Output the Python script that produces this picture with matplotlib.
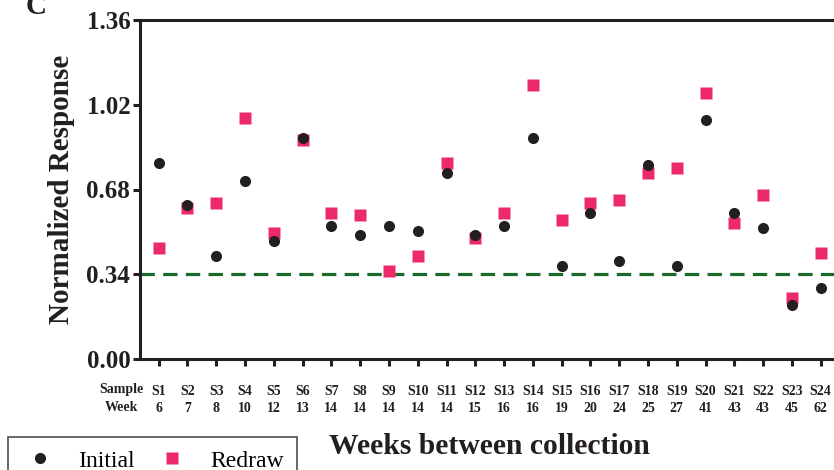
import matplotlib
matplotlib.use("Agg")
import matplotlib.pyplot as plt
from matplotlib.lines import Line2D
import numpy as np

samples = ["S1","S2","S3","S4","S5","S6","S7","S8","S9","S10","S11","S12",
           "S13","S14","S15","S16","S17","S18","S19","S20","S21","S22","S23","S24"]
weeks = [6,7,8,10,12,13,14,14,14,14,14,15,16,16,19,20,24,25,27,41,43,43,45,62]
initial = [0.787,0.617,0.415,0.716,0.475,0.887,0.535,0.496,0.535,0.515,0.747,0.496,
           0.535,0.887,0.375,0.586,0.395,0.777,0.375,0.958,0.586,0.525,0.215,0.284]
redraw = [0.446,0.607,0.627,0.967,0.506,0.879,0.586,0.576,0.355,0.415,0.788,0.486,
          0.586,1.098,0.557,0.627,0.636,0.748,0.768,1.069,0.546,0.657,0.244,0.426]
threshold = 0.34
yticks = [0.00,0.34,0.68,1.02,1.36]

BLACK = "#231f20"
PINK = "#ec2a6a"
GREEN = "#1a6a2c"

plt.rcParams['font.family'] = ['Liberation Serif', 'DejaVu Serif']

W, H = 834, 470
fig = plt.figure(figsize=(W/100, H/100), dpi=100)
ax_left, ax_bottom, ax_top = 140, 359, 20
x0, x1 = 0.35, 24.7
ppu = 28.78
ax = fig.add_axes([ax_left/W, (H-ax_bottom)/H, (x1-x0)*ppu/W, (ax_bottom-ax_top)/H])

x = np.arange(1, len(samples)+1)
ax.axhline(threshold, color=GREEN, lw=2.3, ls=(0, (4.5, 2.6)), zorder=1)
ax.plot(x, redraw, ls='none', marker='s', ms=8, color=PINK, mec='none', zorder=2)
ax.plot(x, initial, ls='none', marker='o', ms=8, color=BLACK, mec='none', zorder=3)

ax.set_xlim(x0, x1)
ax.set_ylim(0, 1.36)
ax.set_yticks(yticks)
ax.set_yticklabels([f"{v:.2f}" for v in yticks], fontsize=18, fontweight='bold', color=BLACK)
ax.set_xticks(x)
ax.set_xticklabels([f"{s}\n{w}" for s, w in zip(samples, weeks)], fontsize=10,
                   fontweight='bold', color=BLACK, linespacing=1.45)
for sp in ax.spines.values():
    sp.set_linewidth(2.2)
    sp.set_color(BLACK)
ax.tick_params(axis='both', direction='out', length=5, width=2.2, color=BLACK)
ax.tick_params(axis='x', pad=13.5)
ax.tick_params(axis='y', pad=2)

ax.text(-0.28, -0.072, "Sample\nWeek", transform=ax.get_xaxis_transform(),
        ha='center', va='top', fontsize=10, fontweight='bold', color=BLACK,
        linespacing=1.45, clip_on=False)

ax.set_ylabel("Normalized Response", fontsize=21, fontweight='bold', color=BLACK, labelpad=8.5)

fig.text(489/W, 1-447/H, "Weeks between collection", ha='center', va='center',
         fontsize=21.3, fontweight='bold', color=BLACK)
fig.text(36/W, 1-7/H, "C", ha='center', va='center', fontsize=21, fontweight='bold', color=BLACK)

handles = [Line2D([], [], ls='none', marker='o', ms=8, color=BLACK, mec='none'),
           Line2D([], [], ls='none', marker='s', ms=8, color=PINK, mec='none')]
leg = fig.legend(handles, ["Initial", "Redraw"], ncol=2, loc='upper left',
                 bbox_to_anchor=(8/W, 1-437/H), fontsize=17, frameon=True,
                 fancybox=False, edgecolor=BLACK, handletextpad=0.8,
                 columnspacing=0.8, borderpad=0.55, handlelength=1.61, borderaxespad=0)
leg.get_frame().set_linewidth(1.2)

fig.savefig("out.png", dpi=100)
